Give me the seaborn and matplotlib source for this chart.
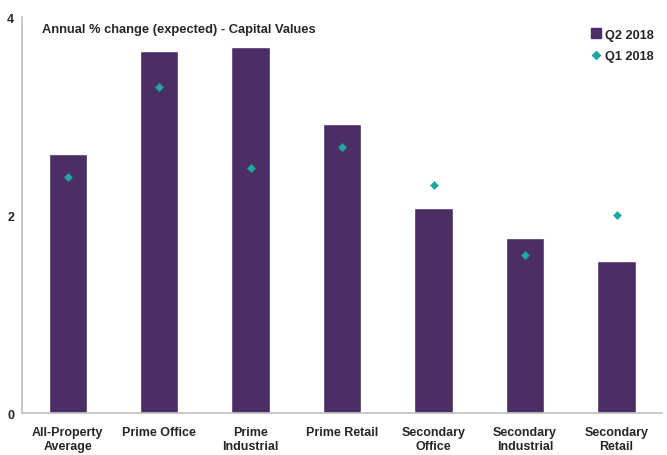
import matplotlib
matplotlib.use("Agg")
from matplotlib import pyplot as plt
from matplotlib.lines import Line2D
import pandas as pd
import seaborn as sns

categories = ["All-Property\nAverage", "Prime Office", "Prime\nIndustrial", "Prime Retail",
              "Secondary\nOffice", "Secondary\nIndustrial", "Secondary\nRetail"]
q2_2018 = [2.62, 3.66, 3.70, 2.92, 2.07, 1.77, 1.54]
q1_2018 = [2.39, 3.29, 2.48, 2.69, 2.30, 1.60, 2.00]

purple = "#4B2E66"
teal = "#1AAB9E"

sns.set_style("white")
plt.rcParams['font.family'] = ['Liberation Sans', 'DejaVu Sans']

df = pd.DataFrame({"category": categories, "q2": q2_2018, "q1": q1_2018})

fig = plt.figure(figsize=(6.67, 4.56), dpi=100)
ax = fig.add_axes([0.033, 0.092, 0.96, 0.868])

sns.barplot(data=df, x="category", y="q2", color=purple, width=0.42,
            saturation=1, ax=ax, order=categories)
sns.stripplot(data=df, x="category", y="q1", color=teal, marker="D", size=4.5,
              jitter=False, ax=ax, order=categories, zorder=3)

ax.set_ylim(0, 4)
ax.set_xlim(-0.5, 6.5)
ax.set_yticks([0, 2, 4])
ax.set_xlabel("")
ax.set_ylabel("")
for s in ["top", "right"]:
    ax.spines[s].set_visible(False)
for s in ["left", "bottom"]:
    ax.spines[s].set_color("#BFBFBF")
    ax.spines[s].set_linewidth(1.2)
ax.tick_params(axis="x", length=0, labelsize=9, pad=9)
ax.tick_params(axis="y", length=0, labelsize=9, pad=5.5)
for lab in ax.get_xticklabels() + ax.get_yticklabels():
    lab.set_fontweight("bold")
    lab.set_linespacing(1.3)

ax.text(0.031, 0.985, "Annual % change (expected) - Capital Values", transform=ax.transAxes,
        fontsize=9.3, fontweight="bold", va="top", ha="left")

handles = [Line2D([], [], marker="s", color=purple, linestyle="none", markersize=6.5),
           Line2D([], [], marker="D", color=teal, linestyle="none", markersize=4)]
ax.legend(handles, ["Q2 2018", "Q1 2018"], loc="upper right", frameon=False,
          prop={"weight": "bold", "size": 9.2}, handletextpad=0.3, handlelength=0.8,
          labelspacing=0.75, bbox_to_anchor=(1.005, 1.0))

fig.savefig("out.png", dpi=100)
